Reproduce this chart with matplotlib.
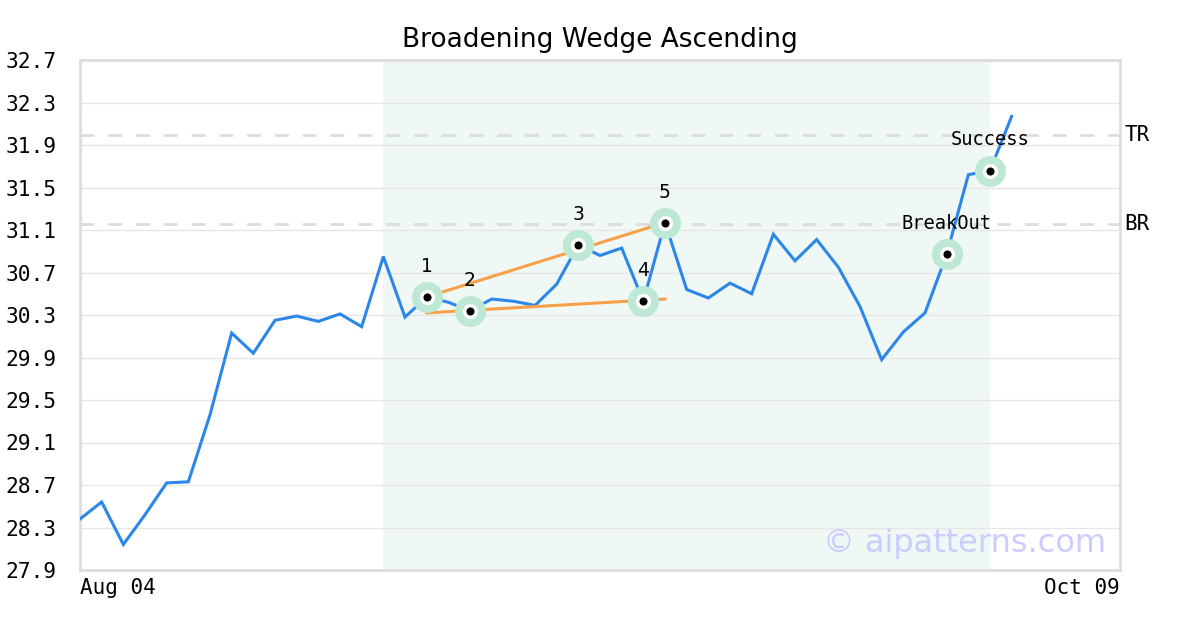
import matplotlib
matplotlib.use("Agg")
import matplotlib.pyplot as plt

# ---- data ----
prices = [28.38, 28.54, 28.14, 28.42, 28.72, 28.73, 29.36, 30.13, 29.94, 30.25,
          30.29, 30.24, 30.31, 30.19, 30.85, 30.28, 30.47, 30.42, 30.34, 30.45,
          30.43, 30.39, 30.59, 30.96, 30.86, 30.93, 30.43, 31.17, 30.54, 30.46,
          30.60, 30.50, 31.06, 30.81, 31.01, 30.75, 30.38, 29.88, 30.14, 30.32,
          30.87, 31.62, 31.66, 32.17]
x_idx = list(range(len(prices)))

pattern_idx = [16, 18, 23, 26, 27]
pattern_labels = ["1", "2", "3", "4", "5"]
event_idx = [40, 42]
event_labels = ["BreakOut", "Success"]

upper_x = [16, 27]
upper_y = [30.47, 31.17]
lower_x = [16, 27]
lower_y = [30.32, 30.45]

shade_range = [14, 42]
tr_level = 31.99
br_level = 31.16
ref_labels = ["TR", "BR"]

y_ticks = [27.9, 28.3, 28.7, 29.1, 29.5, 29.9, 30.3, 30.7, 31.1, 31.5, 31.9, 32.3, 32.7]
x_tick_pos = [0, 48]
x_tick_labels = ["Aug 04", "Oct 09"]
title = "Broadening Wedge Ascending"

# ---- figure ----
fig = plt.figure(figsize=(12, 6.3), dpi=100)
ax = fig.add_axes([80/1200, 1-570/630, 1040/1200, 510/630])
mono = "DejaVu Sans Mono"

ax.set_xlim(0, 48)
ax.set_ylim(27.9, 32.7)

ax.axvspan(shade_range[0], shade_range[1], color="#eff8f4", zorder=0, lw=0)

for yt in y_ticks:
    ax.axhline(yt, color="#e6e6e6", lw=1, zorder=1)

for lvl in (tr_level, br_level):
    ax.axhline(lvl, color="#dddddd", lw=2, ls=(0, (5, 5)), zorder=1)

ax.plot(x_idx, prices, color="#2b87e8", lw=2.2, zorder=3, solid_joinstyle="miter")
ax.plot(upper_x, upper_y, color="#f7a04a", lw=2.2, zorder=4)
ax.plot(lower_x, lower_y, color="#f7a04a", lw=2.2, zorder=4)

all_idx = pattern_idx + event_idx
all_lab = pattern_labels + event_labels
mx = [x_idx[i] for i in all_idx]
my = [prices[i] for i in all_idx]
ax.scatter(mx, my, s=500, color="#bde8d3", zorder=5, lw=0)
ax.scatter(mx, my, s=120, color="white", zorder=6, lw=0)
ax.scatter(mx, my, s=34, color="black", zorder=7, lw=0)

for xx, yy, lab in zip(mx, my, all_lab):
    fam = "DejaVu Sans" if lab.isdigit() else mono
    ax.annotate(lab, (xx, yy), xytext=(0, 22), textcoords="offset points",
                ha="center", va="center", fontsize=13.5, family=fam, zorder=8)

for lvl, lab in zip((tr_level, br_level), ref_labels):
    ax.text(1.004, lvl, lab, transform=ax.get_yaxis_transform(), ha="left",
            va="center", fontsize=15, family=mono, clip_on=False)

ax.set_yticks(y_ticks)
ax.set_yticklabels([f"{v:.1f}" for v in y_ticks], family=mono, fontsize=15.3)
ax.set_xticks(x_tick_pos)
ax.set_xticklabels(x_tick_labels, family=mono, fontsize=15)
labs = ax.get_xticklabels()
labs[0].set_ha("left")
labs[1].set_ha("right")
ax.tick_params(axis="x", length=0, pad=6)
ax.tick_params(axis="y", length=0, pad=17)

for sp in ax.spines.values():
    sp.set_color("#dddddd")
    sp.set_linewidth(2)

ax.text(0.9865, 0.022, "© aipatterns.com", transform=ax.transAxes, ha="right",
        va="bottom", fontsize=23, color="#ccccff", zorder=9)

fig.text(0.5, 1-40/630, title, ha="center", va="center", fontsize=19)

fig.savefig("out.png", dpi=100)
